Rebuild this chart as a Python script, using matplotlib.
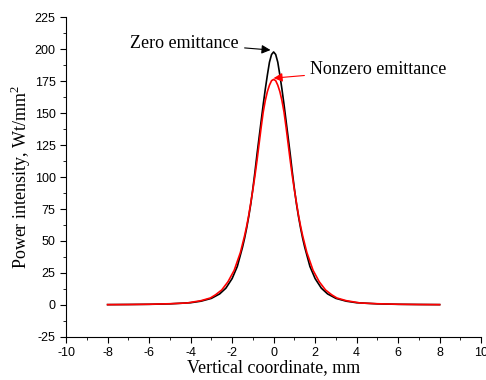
import matplotlib.pyplot as plt
import numpy as np
from matplotlib.ticker import MultipleLocator

plt.rcParams["axes.unicode_minus"] = False
plt.rcParams["mathtext.fontset"] = "custom"
plt.rcParams["mathtext.rm"] = "Liberation Serif"

# half-profiles (x >= 0), mirrored for x < 0
x_zero = [0, 0.1, 0.2, 0.3, 0.4, 0.5, 0.6, 0.7, 0.8, 0.9, 1.0, 1.1, 1.2,
          1.3, 1.4, 1.5, 1.75, 2.0, 2.3, 2.6, 3.0, 3.5, 4.0, 5.0, 6.0, 7.0, 8.0]
p_zero = [198, 196, 190, 180, 169, 157, 144, 131, 118, 104, 91, 79, 69,
          60, 52, 45, 30, 20.5, 13, 8.5, 5, 2.8, 1.6, 0.7, 0.35, 0.2, 0.1]

x_nonzero = [0, 0.1, 0.2, 0.3, 0.4, 0.5, 0.6, 0.7, 0.8, 0.9, 1.0, 1.1, 1.2, 1.3,
             1.4, 1.6, 1.9, 2.2, 2.5, 2.8, 3.05, 3.5, 4.17, 5.0, 6.0, 7.0, 8.0]
p_nonzero = [176.5, 175.5, 172, 167, 160, 151, 139, 126, 113, 101, 90, 80, 70, 61.5,
             54, 41, 27, 18, 11.6, 7.8, 5.3, 3.2, 1.4, 0.8, 0.4, 0.2, 0.1]


def mirror(xs, ys):
    xs = np.array(xs, dtype=float)
    ys = np.array(ys, dtype=float)
    return np.concatenate([-xs[:0:-1], xs]), np.concatenate([ys[:0:-1], ys])


xz, yz = mirror(x_zero, p_zero)
xn, yn = mirror(x_nonzero, p_nonzero)

fig = plt.figure(figsize=(4.86, 3.80), dpi=100)
ax = fig.add_axes([0.136, 0.114, 0.854, 0.840])

ax.plot(xz, yz, color="black", lw=1.2)
ax.plot(xn, yn, color="red", lw=1.2)

ax.set_xlim(-10, 10)
ax.set_ylim(-25, 225)
ax.xaxis.set_major_locator(MultipleLocator(2))
ax.xaxis.set_minor_locator(MultipleLocator(1))
ax.yaxis.set_major_locator(MultipleLocator(25))
ax.yaxis.set_minor_locator(MultipleLocator(12.5))
ax.tick_params(which="both", direction="out", labelsize=9)
ax.tick_params(which="major", length=4)
ax.tick_params(which="minor", length=2.5)
for lab in ax.get_xticklabels() + ax.get_yticklabels():
    lab.set_fontfamily("Liberation Sans")

ax.spines["top"].set_visible(False)
ax.spines["right"].set_visible(False)

ax.set_xlabel("Vertical coordinate, mm", family="Liberation Serif", fontsize=13, labelpad=0)
ax.set_ylabel("Power intensity, Wt/mm$^2$", family="Liberation Serif", fontsize=13, labelpad=1)

ax.annotate("Zero emittance", xy=(-0.15, 199.5), xytext=(-6.9, 205),
            family="Liberation Serif", fontsize=13, va="center", ha="left",
            arrowprops=dict(arrowstyle="-|>", color="black", lw=0.8, shrinkA=2, shrinkB=0))
ax.annotate("Nonzero emittance", xy=(0.0, 177.5), xytext=(1.75, 184.5),
            family="Liberation Serif", fontsize=13, va="center", ha="left",
            arrowprops=dict(arrowstyle="-|>", color="red", lw=0.8, shrinkA=2, shrinkB=0))

fig.savefig("out.png", dpi=100)
